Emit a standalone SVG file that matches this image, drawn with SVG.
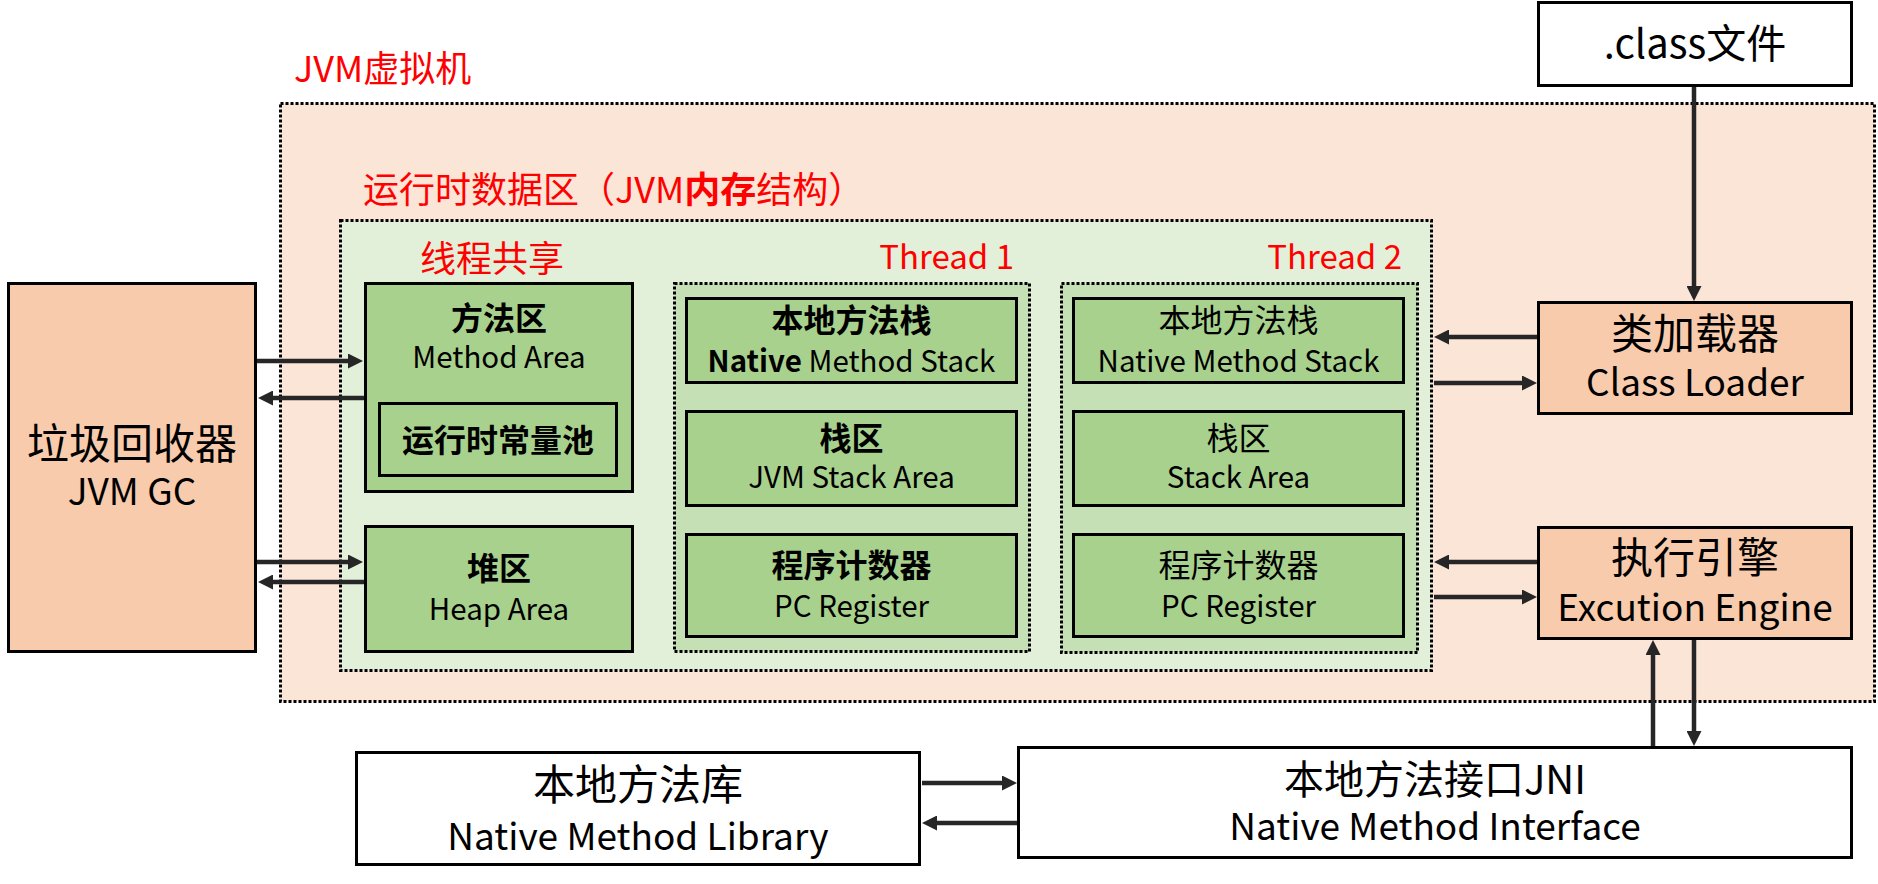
<svg xmlns="http://www.w3.org/2000/svg" width="1878" height="884" viewBox="0 0 1878 884">
<style>
text { font-family: "Noto Sans CJK SC", "Noto Sans", sans-serif; fill: #000; }
.lbl { fill: #FF0000; font-size: 36px; }
.thr { font-size: 33px; }
.mid { text-anchor: middle; }
.b { font-weight: bold; }
.box { stroke: #000; stroke-width: 3; }
.green { fill: #A9D18E; }
.peach { fill: #F8CBAD; }
.white { fill: #FFFFFF; }
.dot { stroke: #000; stroke-width: 3; stroke-dasharray: 3 2; }
.s32 { font-size: 32px; }
.l30 { font-size: 29.5px; }
.l37 { font-size: 37px; }
.s40 { font-size: 40px; }
.s42 { font-size: 42px; }
.conn line { stroke: #262626; stroke-width: 4.5; marker-end: url(#ah); }
</style>
<defs>
<marker id="ah" markerUnits="userSpaceOnUse" markerWidth="15" markerHeight="15" refX="4" refY="7.5" orient="auto">
<path d="M0,0 L15,7.5 L0,15 z" fill="#262626"/>
</marker>
</defs>

<g id="jvm">
<rect class="dot" x="280.5" y="103.5" width="1594" height="598" fill="#FBE5D6"/>
<text class="lbl" x="294" y="82">JVM虚拟机</text>
</g>

<g id="runtime-data-area">
<rect class="dot" x="340.5" y="220.5" width="1091" height="450" fill="#E2F0D9"/>
<text class="lbl" x="363" y="203">运行时数据区（JVM<tspan class="b">内存</tspan>结构）</text>
<text class="lbl" x="420" y="272">线程共享</text>
</g>

<g id="thread1">
<rect class="dot" x="674.5" y="283.5" width="355" height="368" fill="#C5E0B4"/>
<text class="lbl thr" x="1014" y="269" text-anchor="end">Thread 1</text>
</g>
<g id="thread2">
<rect class="dot" x="1061.5" y="283.5" width="356" height="369" fill="#C5E0B4"/>
<text class="lbl thr" x="1402" y="269" text-anchor="end">Thread 2</text>
</g>

<g id="gc">
<rect class="box peach" x="8.5" y="283.5" width="247" height="368"/>
<text class="mid s42" x="132" y="459">垃圾回收器</text>
<text class="mid l37" x="132" y="505">JVM GC</text>
</g>

<g id="method-area">
<rect class="box green" x="365.5" y="283.5" width="267" height="208"/>
<text class="mid s32 b" x="499" y="330">方法区</text>
<text class="mid l30" x="499" y="368">Method Area</text>
</g>
<g id="constant-pool">
<rect class="box green" x="379.5" y="403.5" width="237" height="72"/>
<text class="mid s32 b" x="498" y="452">运行时常量池</text>
</g>
<g id="heap">
<rect class="box green" x="365.5" y="526.5" width="267" height="125"/>
<text class="mid s32 b" x="499" y="580">堆区</text>
<text class="mid l30" x="499" y="620">Heap Area</text>
</g>

<g id="t1-native-stack">
<rect class="box green" x="686.5" y="298.5" width="330" height="84"/>
<text class="mid s32 b" x="851.5" y="332">本地方法栈</text>
<text class="mid l30" x="851.5" y="372"><tspan class="b">Native</tspan> Method Stack</text>
</g>
<g id="t1-stack">
<rect class="box green" x="686.5" y="411.5" width="330" height="94"/>
<text class="mid s32 b" x="851.5" y="450">栈区</text>
<text class="mid l30" x="851.5" y="488">JVM Stack Area</text>
</g>
<g id="t1-pc">
<rect class="box green" x="686.5" y="534.5" width="330" height="102"/>
<text class="mid s32 b" x="851.5" y="577">程序计数器</text>
<text class="mid l30" x="851.5" y="617">PC Register</text>
</g>

<g id="t2-native-stack">
<rect class="box green" x="1073.5" y="298.5" width="330" height="84"/>
<text class="mid s32" x="1238.5" y="332">本地方法栈</text>
<text class="mid l30" x="1238.5" y="372">Native Method Stack</text>
</g>
<g id="t2-stack">
<rect class="box green" x="1073.5" y="411.5" width="330" height="94"/>
<text class="mid s32" x="1238.5" y="450">栈区</text>
<text class="mid l30" x="1238.5" y="488">Stack Area</text>
</g>
<g id="t2-pc">
<rect class="box green" x="1073.5" y="534.5" width="330" height="102"/>
<text class="mid s32" x="1238.5" y="577">程序计数器</text>
<text class="mid l30" x="1238.5" y="617">PC Register</text>
</g>

<g id="class-file">
<rect class="box white" x="1538.5" y="2.5" width="313" height="83"/>
<text class="mid s40" x="1695" y="58">.class文件</text>
</g>
<g id="class-loader">
<rect class="box peach" x="1538.5" y="302.5" width="313" height="111"/>
<text class="mid s42" x="1695" y="349">类加载器</text>
<text class="mid l37" x="1695" y="396">Class Loader</text>
</g>
<g id="exec-engine">
<rect class="box peach" x="1538.5" y="527.5" width="313" height="111"/>
<text class="mid s42" x="1695" y="573">执行引擎</text>
<text class="mid l37" x="1695" y="621">Excution Engine</text>
</g>
<g id="jni">
<rect class="box white" x="1018.5" y="747.5" width="833" height="110"/>
<text class="mid s40" x="1435" y="794">本地方法接口JNI</text>
<text class="mid l37" x="1435" y="840">Native Method Interface</text>
</g>
<g id="native-lib">
<rect class="box white" x="356.5" y="752.5" width="563" height="112"/>
<text class="mid s42" x="638" y="800">本地方法库</text>
<text class="mid l37" x="638" y="850">Native Method Library</text>
</g>

<g id="connectors" class="conn">
<line x1="1694" y1="87" x2="1694" y2="290"/>
<line x1="257" y1="361" x2="352" y2="361"/>
<line x1="364" y1="398" x2="269" y2="398"/>
<line x1="257" y1="562" x2="352" y2="562"/>
<line x1="364" y1="582" x2="269" y2="582"/>
<line x1="1537" y1="337" x2="1445" y2="337"/>
<line x1="1434" y1="383" x2="1526" y2="383"/>
<line x1="1537" y1="562" x2="1445" y2="562"/>
<line x1="1434" y1="597" x2="1526" y2="597"/>
<line x1="1653" y1="746" x2="1653" y2="651"/>
<line x1="1694" y1="640" x2="1694" y2="735"/>
<line x1="922" y1="783" x2="1006" y2="783"/>
<line x1="1017" y1="823" x2="933" y2="823"/>
</g>
</svg>
